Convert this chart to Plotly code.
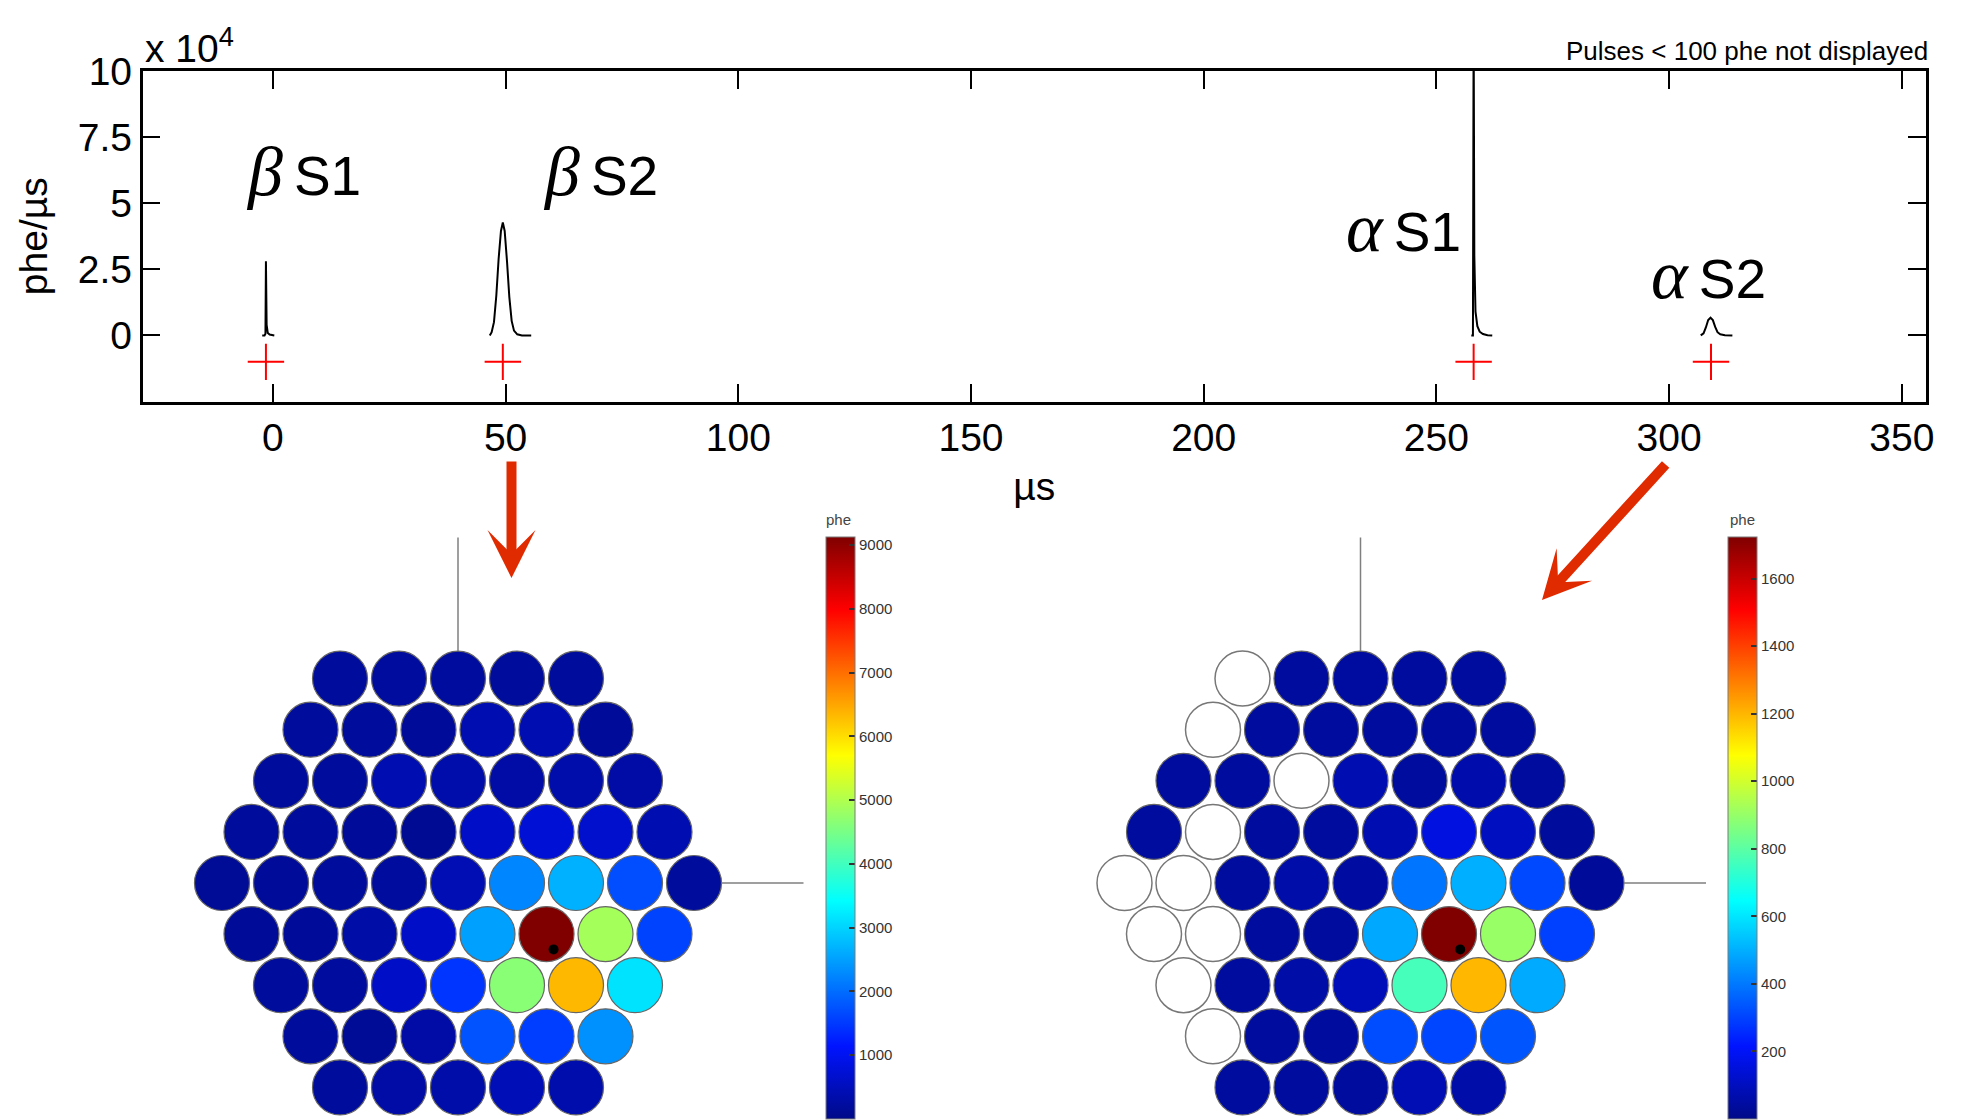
import math
import plotly.graph_objects as go

W, H = 1961, 1120

# ---------------------------------------------------------------- waveform data
# summed PMT waveform samples: time (µs) and amplitude (phe/µs)
beta_s1_t = [-2.3, -1.8, -1.6, -1.5, -1.35, -1.1, -0.7, -0.2, 0.3]
beta_s1_y = [0, 0, 600, 28000, 4000, 900, 300, 50, 0]

beta_s2_t = [46.6, 47.0, 47.5, 48.0, 48.5, 49.0, 49.4, 49.8, 50.3, 50.8, 51.3, 51.8, 52.5, 53.5, 55.5]
beta_s2_y = [0, 1200, 5000, 15000, 29000, 39500, 42700, 39500, 28000, 14500, 5500, 1800, 400, 0, 0]

alpha_s1_t = [257.5, 257.85, 258.0, 258.15, 258.4, 258.8, 259.3, 260.0, 261.0, 262.0]
alpha_s1_y = [0, 0, 120000, 30000, 9000, 3500, 1400, 500, 100, 0]

alpha_s2_t = [306.8, 307.4, 307.9, 308.4, 308.9, 309.4, 309.9, 310.4, 311.0, 312.0, 313.6]
alpha_s2_y = [0, 800, 3000, 5800, 6700, 5800, 3200, 1200, 400, 100, 0]

# identified pulse start markers
pulse_t = [-1.5, 49.4, 258.0, 309.0]
pulse_mark_y = [-10000, -10000, -10000, -10000]

x_ticks = [0, 50, 100, 150, 200, 250, 300, 350]
y_ticks = [0, 25000, 50000, 75000, 100000]
y_ticktext = ["0", "2.5", "5", "7.5", "10"]

# ---------------------------------------------------------------- PMT hit maps
# per-PMT pulse area (phe), hexagonal array rows from top to bottom; None = PMT off
beta_s2_pmt = [
    [190, 200, 200, 180, 180],
    [190, 190, 170, 380, 380, 170],
    [190, 190, 380, 330, 280, 330, 280],
    [180, 180, 170, 110, 600, 730, 650, 380],
    [130, 160, 180, 200, 420, 2250, 2660, 1700, 180],
    [150, 170, 300, 600, 2500, 9125, 4900, 1600],
    [180, 200, 600, 1450, 4650, 6340, 3150],
    [180, 130, 280, 1750, 1550, 2350],
    [180, 280, 320, 450, 350],
]
alpha_s2_pmt = [
    [None, 40, 42, 40, 38],
    [None, 38, 40, 38, 40, 38],
    [40, 40, None, 75, 40, 65, 40],
    [40, None, 40, 40, 72, 160, 100, 35],
    [None, None, 40, 60, 45, 394, 500, 313, 30],
    [None, None, 40, 38, 486, 1723, 904, 297],
    [None, 40, 55, 90, 762, 1198, 492],
    [None, 38, 40, 320, 305, 335],
    [40, 38, 40, 80, 58],
]
beta_cbar_ticks = [1000, 2000, 3000, 4000, 5000, 6000, 7000, 8000, 9000]
alpha_cbar_ticks = [200, 400, 600, 800, 1000, 1200, 1400, 1600]
beta_range = [0, 9125]
alpha_range = [0, 1723]

# reconstructed event position (in PMT pitch units)
beta_pos = [1.62, -1.125]
alpha_pos = [1.69, -1.125]

JET = [[0.0, "#000a88"], [0.125, "#0014ff"], [0.375, "#00ffff"],
       [0.625, "#ffff00"], [0.875, "#ff0000"], [1.0, "#800000"]]

FONT = "Liberation Sans"
RED = "#e02a00"


def fx(p):
    return p / W


def fy(p):
    return 1 - p / H


def hex_cells(rows):
    xs, ys, vs, ex, ey = [], [], [], [], []
    mid = (len(rows) - 1) / 2
    for r, row in enumerate(rows):
        n = len(row)
        for c, v in enumerate(row):
            x = c - (n - 1) / 2
            y = (mid - r) * math.sqrt(3) / 2
            if v is None:
                ex.append(x)
                ey.append(y)
            else:
                xs.append(x)
                ys.append(y)
                vs.append(v)
    return xs, ys, vs, ex, ey


fig = go.Figure()

# ---- waveform panel
for t, y in [(beta_s1_t, beta_s1_y), (beta_s2_t, beta_s2_y),
             (alpha_s1_t, alpha_s1_y), (alpha_s2_t, alpha_s2_y)]:
    fig.add_trace(go.Scatter(x=t, y=y, mode="lines", line=dict(color="black", width=2),
                             showlegend=False, hoverinfo="skip"))
fig.add_trace(go.Scatter(x=pulse_t, y=pulse_mark_y, mode="markers",
                         marker=dict(symbol="cross-thin", size=26, line=dict(color="red", width=2)),
                         showlegend=False))

# ---- hexagonal PMT maps
PITCH = 59.0
CELL = 55
hex_specs = [
    (beta_s2_pmt, beta_pos, "x2", "y2", "coloraxis"),
    (alpha_s2_pmt, alpha_pos, "x3", "y3", "coloraxis2"),
]
for rows, pos, xa, ya, cax in hex_specs:
    xs, ys, vs, ex, ey = hex_cells(rows)
    if ex:
        fig.add_trace(go.Scatter(x=ex, y=ey, xaxis=xa, yaxis=ya, mode="markers",
                                 marker=dict(size=CELL, color="white",
                                             line=dict(color="#777777", width=1.5)),
                                 showlegend=False, hoverinfo="skip"))
    fig.add_trace(go.Scatter(x=xs, y=ys, xaxis=xa, yaxis=ya, mode="markers",
                             marker=dict(size=CELL, color=vs, coloraxis=cax,
                                         line=dict(color="#666666", width=1.2)),
                             showlegend=False))
    fig.add_trace(go.Scatter(x=[pos[0]], y=[pos[1]], xaxis=xa, yaxis=ya, mode="markers",
                             marker=dict(size=10, color="black"),
                             showlegend=False))

HEX_CY = 883.0
HW, HH = 300.0, 237.0


def hex_axis(cx, xname, yname):
    xa = dict(domain=[fx(cx - HW), fx(cx + HW)], range=[-HW / PITCH, HW / PITCH],
              visible=False, fixedrange=True, anchor=yname)
    ya = dict(domain=[fy(HEX_CY + HH), fy(HEX_CY - HH)], range=[-HH / PITCH, HH / PITCH],
              visible=False, fixedrange=True, anchor=xname)
    return xa, ya


xa2, ya2 = hex_axis(458.0, "x2", "y2")
xa3, ya3 = hex_axis(1360.5, "x3", "y3")

CB_TOP, CB_BOT = 537.5, 1119.0


def cbar(left_px, ticks):
    return dict(x=fx(left_px), xanchor="left", xpad=0, xref="paper",
                y=fy(CB_BOT), yanchor="bottom", ypad=0, yref="paper",
                len=(CB_BOT - CB_TOP) / H, lenmode="fraction",
                thickness=29, thicknessmode="pixels",
                outlinewidth=1, outlinecolor="#7a7a7a",
                ticks="inside", ticklen=6, tickwidth=1.5, tickcolor="#333333",
                tickvals=ticks, tickfont=dict(size=15, color="#333333", family=FONT))


shapes = []
# array axes drawn through the hexagons
for cx in (458.0, 1360.5):
    half_row = 4 * PITCH + CELL / 2
    top_row = HEX_CY - 4 * PITCH * math.sqrt(3) / 2 - CELL / 2
    shapes.append(dict(type="line", xref="paper", yref="paper",
                       x0=fx(cx), x1=fx(cx), y0=fy(537.5), y1=fy(top_row),
                       line=dict(color="#7f7f7f", width=1.5)))
    shapes.append(dict(type="line", xref="paper", yref="paper",
                       x0=fx(cx + half_row), x1=fx(cx + half_row + 82), y0=fy(HEX_CY), y1=fy(HEX_CY),
                       line=dict(color="#7f7f7f", width=1.5)))

# tick dashes on the left edge of each colour bar
for left_px, ticks, rng in [(826, beta_cbar_ticks, beta_range), (1728, alpha_cbar_ticks, alpha_range)]:
    for v in ticks:
        yp = CB_BOT - (v - rng[0]) / (rng[1] - rng[0]) * (CB_BOT - CB_TOP)
        shapes.append(dict(type="line", xref="paper", yref="paper",
                           x0=fx(left_px), x1=fx(left_px + 6), y0=fy(yp), y1=fy(yp),
                           line=dict(color="#333333", width=1.5)))

annotations = []


def label(greek, tag, left_px, mid_px):
    annotations.append(dict(
        xref="paper", yref="paper", x=fx(left_px), y=fy(mid_px),
        xanchor="left", yanchor="middle", showarrow=False,
        text=('<span style="font-family:Liberation Serif;font-size:70px"><i>' + greek +
              '</i></span>\u2009' + tag),
        font=dict(family=FONT, size=55, color="black")))


label("β", "S1", 244, 171)
label("β", "S2", 541, 171)
label("α", "S1", 1344, 227)
label("α", "S2", 1649, 274)

annotations.append(dict(xref="paper", yref="paper", x=fx(143), y=fy(46), xanchor="left",
                        yanchor="middle", showarrow=False, text="x 10<sup>4</sup>",
                        font=dict(family=FONT, size=39, color="black")))
annotations.append(dict(xref="paper", yref="paper", x=fx(1930), y=fy(51), xanchor="right",
                        yanchor="middle", showarrow=False, text="Pulses < 100 phe not displayed",
                        font=dict(family=FONT, size=26, color="black")))
for px_left in (838, 1742):
    annotations.append(dict(xref="paper", yref="paper", x=fx(px_left), y=fy(519),
                            xanchor="center", yanchor="middle", showarrow=False, text="phe",
                            font=dict(family=FONT, size=15, color="#444444")))

# arrows linking the pulses to their hit maps
annotations.append(dict(xref="paper", yref="paper", x=fx(511.5), y=fy(578), text="",
                        showarrow=True, axref="pixel", ayref="pixel", ax=0, ay=-118,
                        arrowhead=3, arrowsize=0.8, arrowwidth=10, arrowcolor=RED, standoff=0))
annotations.append(dict(xref="paper", yref="paper", x=fx(1542), y=fy(600), text="",
                        showarrow=True, axref="pixel", ayref="pixel", ax=125, ay=-137,
                        arrowhead=3, arrowsize=0.8, arrowwidth=10, arrowcolor=RED, standoff=0))

fig.update_layout(
    width=W, height=H, autosize=False,
    margin=dict(l=0, r=0, t=0, b=0, autoexpand=False),
    paper_bgcolor="white", plot_bgcolor="white",
    font=dict(family=FONT, color="black"),
    xaxis=dict(domain=[fx(142.6), fx(1926)], range=[-28, 355.2], anchor="y",
               tickvals=x_ticks, ticks="inside", ticklen=18, tickwidth=1.5, tickcolor="black",
               mirror="ticks", showline=True, linewidth=2.5, linecolor="black",
               showgrid=False, zeroline=False, tickfont=dict(size=39),
               title=dict(text="µs", font=dict(size=39), standoff=15), fixedrange=True),
    yaxis=dict(domain=[fy(401.5), fy(71)], range=[-25000, 100000], anchor="x",
               tickvals=y_ticks, ticktext=y_ticktext, ticks="inside", ticklen=18, tickwidth=1.5,
               tickcolor="black", mirror="ticks", showline=True, linewidth=2.5, linecolor="black",
               showgrid=False, zeroline=False, tickfont=dict(size=39),
               title=dict(text="phe/µs", font=dict(size=39), standoff=19), fixedrange=True),
    xaxis2=xa2, yaxis2=ya2, xaxis3=xa3, yaxis3=ya3,
    coloraxis=dict(colorscale=JET, cmin=beta_range[0], cmax=beta_range[1],
                   colorbar=cbar(826, beta_cbar_ticks)),
    coloraxis2=dict(colorscale=JET, cmin=alpha_range[0], cmax=alpha_range[1],
                    colorbar=cbar(1728, alpha_cbar_ticks)),
    shapes=shapes,
    annotations=annotations,
)

fig.write_html("out.html")
